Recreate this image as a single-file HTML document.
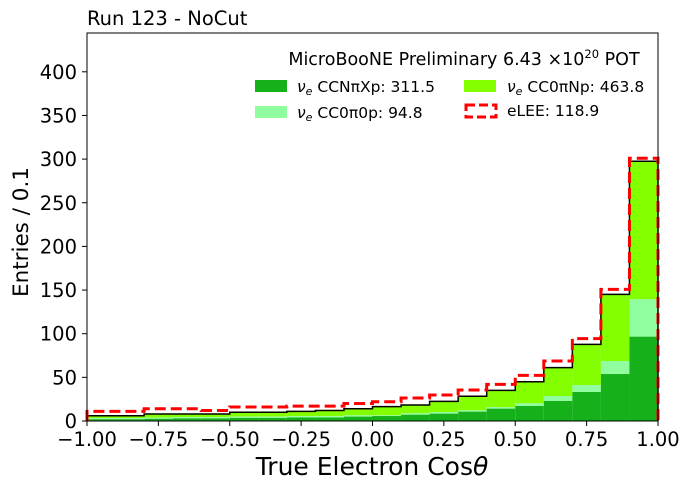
<!DOCTYPE html>
<html><head><meta charset="utf-8"><style>
body{margin:0;background:#fff;}
svg text{font-family:"DejaVu Sans","Liberation Sans",sans-serif;}
</style></head><body>
<svg id="c" width="690" height="490" xmlns="http://www.w3.org/2000/svg"></svg>
<script>
const binEdges=[-1,-0.9,-0.8,-0.7,-0.6,-0.5,-0.4,-0.3,-0.2,-0.1,0,0.1,0.2,0.3,0.4,0.5,0.6,0.7,0.8,0.9,1.0];
const darkVals=[2,2,2.5,3,3,3.5,3.5,4,4,5,5.7,7.2,8.4,10.7,14.1,17.2,22.9,33.2,53.8,96.6];
const lightVals=[1.5,1.5,1.5,1.5,1.5,1.5,1.5,1.5,1.5,1.5,0.8,1.6,1.9,1.5,1.9,3,5.7,8,14.9,42.8];
const totalVals=[6,6,8,8,8,10,10,11,12,14,16.4,18.3,22.5,28.3,35.1,45,61.1,87.8,145,297.5];
const eleeVals=[11,11,14,14,12,16,16,17,17,20,22.1,26.3,29.8,35.5,42,52.3,68.7,94.3,150.8,301];
const xTicks=[-1,-0.75,-0.5,-0.25,0,0.25,0.5,0.75,1];
const xTickLabels=["\u22121.00","\u22120.75","\u22120.50","\u22120.25","0.00","0.25","0.50","0.75","1.00"];
const yTicks=[0,50,100,150,200,250,300,350,400];

const NS="http://www.w3.org/2000/svg";
const svg=document.getElementById('c');
const L=87,R=658,T=33,B=421;
const X=v=>L+(v+1)/2*(R-L);
const Y=v=>B-v*0.873;
function mk(tag,attrs,parent){const e=document.createElementNS(NS,tag);for(const k in attrs)e.setAttribute(k,attrs[k]);(parent||svg).appendChild(e);return e;}

for(let i=0;i<darkVals.length;i++){
  const x0=X(binEdges[i]),x1=X(binEdges[i+1]);
  const d=darkVals[i],l=d+lightVals[i],t=totalVals[i];
  let r=mk('rect',{x:x0,y:Y(t),width:x1-x0,height:Y(l)-Y(t),fill:'#84ff00'});
  
  
  r=mk('rect',{x:x0,y:Y(l),width:x1-x0,height:Y(d)-Y(l),fill:'#90fd9e'});
  
  
  r=mk('rect',{x:x0,y:Y(d),width:x1-x0,height:B-Y(d),fill:'#15b01a'});
  
  
}
function stepPath(vals){let p='M'+X(binEdges[0])+','+B;for(let i=0;i<vals.length;i++){p+=' L'+X(binEdges[i])+','+Y(vals[i])+' L'+X(binEdges[i+1])+','+Y(vals[i]);}p+=' L'+X(binEdges[vals.length])+','+B;return p;}
let tl=mk('path',{d:stepPath(totalVals),fill:'none',stroke:'#000','stroke-width':1.5});


let el=mk('path',{d:stepPath(eleeVals),fill:'none',stroke:'#ff0000','stroke-width':3,'stroke-dasharray':'11,5'});



let fr=mk('rect',{x:L,y:T,width:R-L,height:B-T,fill:'none',stroke:'#000','stroke-width':1});



xTicks.forEach((v,i)=>{
  mk('line',{x1:X(v),x2:X(v),y1:B,y2:B+5,stroke:'#000'});
  const t=mk('text',{x:X(v),y:B+25,'text-anchor':'middle','font-size':19.5});
  t.textContent=xTickLabels[i];
  
  
});
yTicks.forEach(v=>{
  mk('line',{x1:L-5,x2:L,y1:Y(v),y2:Y(v),stroke:'#000'});
  const t=mk('text',{x:L-10,y:Y(v)+7,'text-anchor':'end','font-size':19.5});
  t.textContent=v;
  
  
});
</script>
<svg width="690" height="490" style="position:absolute;left:0;top:0" xmlns="http://www.w3.org/2000/svg">
<text x="87" y="25" font-size="19.5">Run 123 - NoCut</text>
<text x="372" y="475" text-anchor="middle" font-size="25">True Electron Cos<tspan font-style="italic">θ</tspan></text>
<text transform="translate(28,232) rotate(-90)" text-anchor="middle" font-size="21.5">Entries / 0.1</text>
<g font-size="15.5">
<text x="464" y="65" text-anchor="middle" font-size="17.5">MicroBooNE Preliminary 6.43 ×10<tspan dy="-7" font-size="11.5">20</tspan><tspan dy="7"> POT</tspan></text>
<rect x="255" y="80" width="32" height="12" fill="#15b01a"/>
<text x="297" y="92"><tspan font-style="italic">ν</tspan><tspan font-size="11" dy="3" font-style="italic">e</tspan><tspan dy="-3"> CCNπXp: 311.5</tspan></text>
<rect x="464" y="80" width="32" height="12" fill="#84ff00"/>
<text x="507" y="92"><tspan font-style="italic">ν</tspan><tspan font-size="11" dy="3" font-style="italic">e</tspan><tspan dy="-3"> CC0πNp: 463.8</tspan></text>
<rect x="255" y="106" width="32" height="12" fill="#90fd9e"/>
<text x="297" y="118"><tspan font-style="italic">ν</tspan><tspan font-size="11" dy="3" font-style="italic">e</tspan><tspan dy="-3"> CC0π0p: 94.8</tspan></text>
<rect x="466" y="105" width="30" height="12" fill="none" stroke="#ff0000" stroke-width="3" stroke-dasharray="9,4"/>
<text x="507" y="116">eLEE: 118.9</text>
</g>
</svg>
</body></html>
